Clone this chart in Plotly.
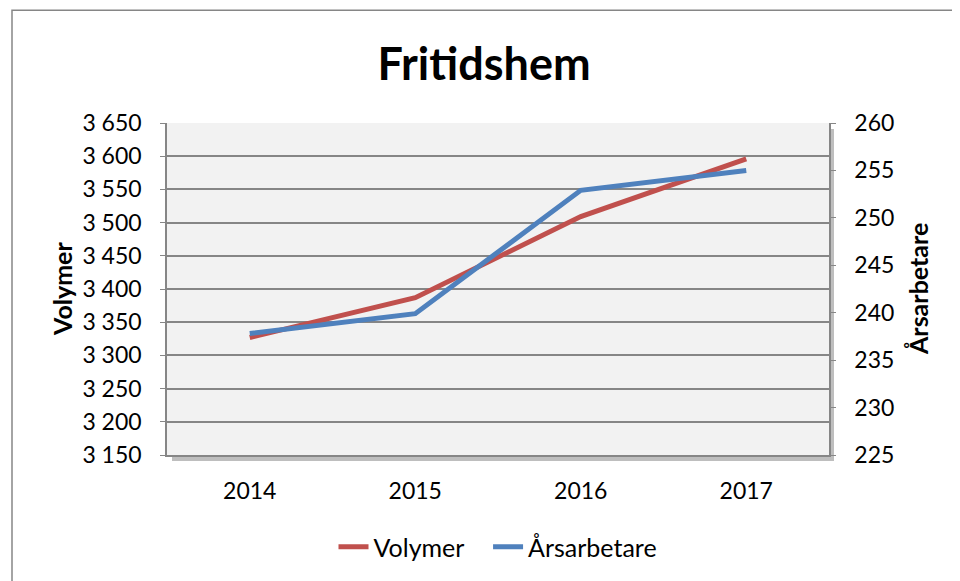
import plotly.graph_objects as go

years = ["2014", "2015", "2016", "2017"]
volymer = [3327, 3387, 3509, 3596]
arsarbetare = [237.8, 239.9, 252.9, 255.0]

FONT = "Lato"
OFF = 8  # page body margin
W, H = 960 - OFF, 581 - OFF
# target plot area in screen coords
SL, SR, ST, SB = 167, 829, 123, 456
L, T = SL - OFF, ST - OFF
R = W - (SR - OFF)
B = H - (SB - OFF)
pw, ph = SR - SL, SB - ST

def px(x):
    return (x - SL) / pw

def py(y):
    return (SB - y) / ph

fig = go.Figure()
fig.add_trace(go.Scatter(x=years, y=volymer, name="Volymer\u00a0\u00a0\u00a0", mode="lines",
                         line=dict(color="#C0504D", width=5), yaxis="y"))
fig.add_trace(go.Scatter(x=years, y=arsarbetare, name="Årsarbetare", mode="lines",
                         line=dict(color="#4F81BD", width=5), yaxis="y2"))

TF = 23
fig.update_layout(
    width=W, height=H,
    margin=dict(l=L, r=R, t=T, b=B),
    paper_bgcolor="white",
    plot_bgcolor="rgba(0,0,0,0)",
    separators=", ",
    font=dict(family=FONT, size=TF, color="black"),
    title=dict(text="<b>Fritidshem</b>", x=0.5, xanchor="center", y=1 - (64 - OFF) / H,
               yanchor="middle", font=dict(size=45, family=FONT)),
    xaxis=dict(type="category", range=[-0.5, 3.5], showgrid=False,
               showline=True, linecolor="#868686", linewidth=1.5,
               ticks="", ticklabelstandoff=15, tickfont=dict(size=TF)),
    yaxis=dict(range=[3150, 3650], dtick=50, tickformat=",d",
               showgrid=True, gridcolor="#868686", gridwidth=1.5,
               showline=True, linecolor="#868686", linewidth=1.5,
               ticks="outside", ticklen=5, tickcolor="#868686",
               ticklabelstandoff=14, zeroline=False, tickfont=dict(size=TF)),
    yaxis2=dict(range=[225, 260], dtick=5, overlaying="y", side="right",
                showgrid=False, showline=True, linecolor="#868686", linewidth=1.5,
                ticks="outside", ticklen=5, tickcolor="#868686",
                ticklabelstandoff=14, zeroline=False, tickfont=dict(size=TF)),
    legend=dict(orientation="h", x=0.5, xanchor="center", y=py(547), yanchor="middle",
                font=dict(size=25), bgcolor="rgba(0,0,0,0)",
                traceorder="normal"),
    showlegend=True,
)

fig.add_annotation(text="<b>Volymer</b>", x=px(62), y=0.5, xref="paper", yref="paper",
                   textangle=-90, showarrow=False, font=dict(size=25, family=FONT),
                   xanchor="center", yanchor="middle")
fig.add_annotation(text="<b>Årsarbetare</b>", x=px(918), y=0.5, xref="paper", yref="paper",
                   textangle=-90, showarrow=False, font=dict(size=25, family=FONT),
                   xanchor="center", yanchor="middle")

# plot-area shadow (right and bottom)
fig.add_shape(type="rect", xref="paper", yref="paper", layer="below",
              x0=px(SL + 5), x1=px(SR + 5), y0=py(SB + 6), y1=py(ST + 6),
              line=dict(width=0), fillcolor="rgba(110,110,110,0.45)")
# plot-area background
fig.add_shape(type="rect", xref="paper", yref="paper", layer="below",
              x0=0, x1=1, y0=0, y1=1,
              line=dict(width=0), fillcolor="#F2F2F2")
# outer chart border
fig.add_shape(type="rect", xref="paper", yref="paper", layer="below",
              x0=px(12), x1=px(990), y0=py(610), y1=py(10),
              line=dict(color="#868686", width=1.5), fillcolor="rgba(0,0,0,0)")

fig.write_html("out.html")
